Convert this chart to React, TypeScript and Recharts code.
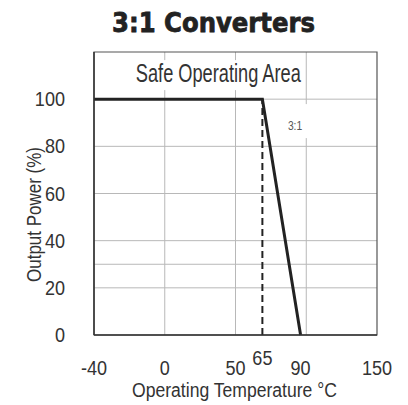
import React from 'react';
import {
  LineChart,
  Line,
  XAxis,
  YAxis,
  CartesianGrid,
  ReferenceLine,
  ReferenceDot,
  ReferenceArea,
  Label,
} from 'recharts';

// temperature ticks and where they sit along the (non-linear) x axis
const tempTicks = [-40, 0, 50, 65, 90, 150];
const tempSlots = [0, 1, 2, 2.38, 2.92, 4];
const gridSlots = [1, 2, 3];

const powerTicks = [0, 20, 40, 60, 80, 100];
const powerGrid = [20, 30, 40, 60, 80, 100];

const curveTemps = [-40, 65, 90];
const curvePower = [100, 100, 0];
const derateTemp = 65;

const narrow = '"Liberation Sans", Arimo, Arial, sans-serif';
const squeeze = 0.86;

const slotOf = (t: number) => {
  for (let i = 0; i < tempTicks.length - 1; i++) {
    const a = tempTicks[i];
    const b = tempTicks[i + 1];
    if (t >= a && t <= b) {
      return tempSlots[i] + ((t - a) / (b - a)) * (tempSlots[i + 1] - tempSlots[i]);
    }
  }
  return 0;
};

const data = curveTemps.map((t, i) => ({ x: slotOf(t), power: curvePower[i] }));
const tickSlots = tempTicks.map(slotOf);

const XTick = (props: any) => {
  const { x, y, payload } = props;
  const idx = tickSlots.findIndex((s) => Math.abs(s - payload.value) < 1e-6);
  const temp = idx >= 0 ? tempTicks[idx] : '';
  const raised = temp === derateTemp;
  return (
    <g transform={`translate(${x},${y + (raised ? 22 : 32)}) scale(${squeeze},1)`}>
      <text x={0} y={0} textAnchor="middle" fill="#333" fontSize={21} fontFamily={narrow}>
        {temp}
      </text>
    </g>
  );
};

const YTick = (props: any) => {
  const { x, y, payload } = props;
  return (
    <g transform={`translate(${x - 21},${y + 7}) scale(${squeeze},1)`}>
      <text x={0} y={0} textAnchor="end" fill="#333" fontSize={21} fontFamily={narrow}>
        {payload.value}
      </text>
    </g>
  );
};

const SafeLabel = (props: any) => {
  const { cx, cy } = props;
  return (
    <g>
      <rect x={cx - 86} y={cy - 15} width={172} height={30} fill="#fff" />
      <text
        x={cx - 82}
        y={cy + 7}
        textLength={165}
        lengthAdjust="spacingAndGlyphs"
        fill="#333"
        fontSize={26}
        fontFamily={narrow}
      >
        Safe Operating Area
      </text>
    </g>
  );
};

const RatioLabel = (props: any) => {
  const { cx, cy } = props;
  return (
    <g>
      <rect x={cx - 15} y={cy - 17} width={30} height={34} fill="#fff" />
      <g transform={`translate(${cx - 2},${cy + 9}) scale(${squeeze},1)`}>
        <text x={0} y={0} textAnchor="middle" fill="#555" fontSize={12} fontFamily={narrow}>
          3:1
        </text>
      </g>
    </g>
  );
};

export default function App() {
  return (
    <div style={{ position: 'absolute', left: 0, top: 0, width: 408, height: 405, background: '#fff' }}>
      <svg width={408} height={44} style={{ position: 'absolute', left: 0, top: 0 }}>
        <text
          x={112}
          y={32}
          textLength={203}
          lengthAdjust="spacingAndGlyphs"
          fill="#222"
          stroke="#222"
          strokeWidth={0.8}
          fontSize={27}
          fontWeight={700}
          fontFamily='"DejaVu Sans", sans-serif'
        >
          3:1 Converters
        </text>
      </svg>
      <LineChart
        width={408}
        height={405}
        data={data}
        margin={{ top: 52, right: 31, left: 14, bottom: 40 }}
      >
        <CartesianGrid
          stroke="#b8b8b8"
          strokeWidth={1}
          horizontalValues={powerGrid}
          verticalValues={gridSlots}
        />
        <XAxis
          dataKey="x"
          type="number"
          domain={[0, 4]}
          ticks={tickSlots}
          tick={<XTick />}
          tickLine={false}
          axisLine={{ stroke: '#333', strokeWidth: 1.5 }}
          height={30}
          interval={0}
        >
          <Label
            content={() => (
              <text
                x={132}
                y={397}
                textLength={205}
                lengthAdjust="spacingAndGlyphs"
                fill="#333"
                fontSize={20}
                fontFamily={narrow}
              >
                Operating Temperature °C
              </text>
            )}
          />
        </XAxis>
        <YAxis
          type="number"
          domain={[0, 120]}
          ticks={powerTicks}
          tick={<YTick />}
          tickLine={false}
          axisLine={{ stroke: '#333', strokeWidth: 1.5 }}
          width={80}
          interval={0}
        >
          <Label
            content={() => (
              <text
                x={41}
                y={282}
                transform="rotate(-90 41 282)"
                textLength={135}
                lengthAdjust="spacingAndGlyphs"
                fill="#333"
                fontSize={20}
                fontFamily={narrow}
              >
                Output Power (%)
              </text>
            )}
          />
        </YAxis>
        <ReferenceArea x1={0} x2={4} y1={0} y2={120} fill="none" stroke="#555" strokeWidth={1.2} />
        <ReferenceDot x={1.75} y={110.2} r={0} shape={<SafeLabel />} />
        <ReferenceDot x={2.87} y={90.7} r={0} shape={<RatioLabel />} />
        <ReferenceLine
          segment={[
            { x: slotOf(derateTemp), y: 0 },
            { x: slotOf(derateTemp), y: 100 },
          ]}
          stroke="#222"
          strokeWidth={2}
          strokeDasharray="7 4"
        />
        <Line
          type="linear"
          dataKey="power"
          stroke="#222"
          strokeWidth={3}
          dot={false}
          isAnimationActive={false}
        />
      </LineChart>
    </div>
  );
}
